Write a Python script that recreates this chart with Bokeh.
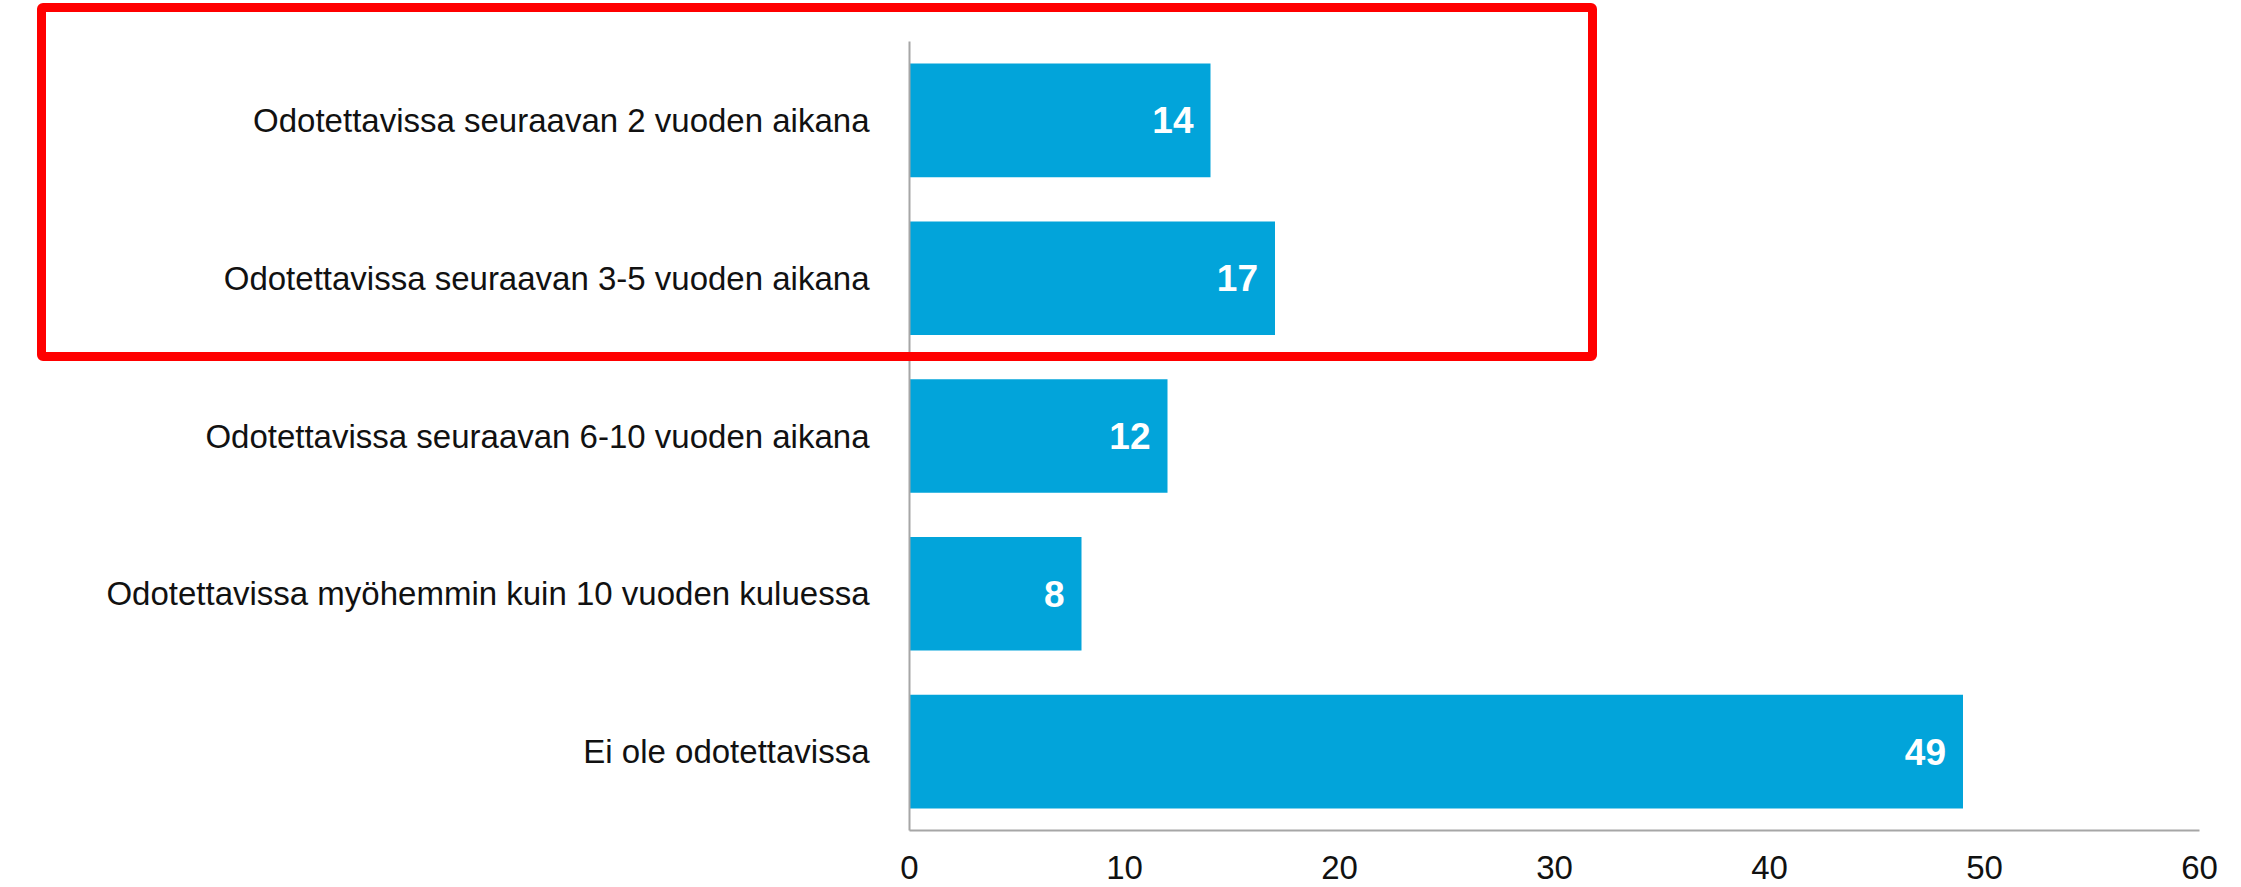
from bokeh.plotting import figure
from bokeh.models import Range1d, FactorRange, FixedTicker, ColumnDataSource, InlineStyleSheet
from bokeh.core.properties import value
from bokeh.embed import file_html
from bokeh.resources import INLINE

categories = [
    "Odotettavissa seuraavan 2 vuoden aikana",
    "Odotettavissa seuraavan 3-5 vuoden aikana",
    "Odotettavissa seuraavan 6-10 vuoden aikana",
    "Odotettavissa myöhemmin kuin 10 vuoden kuluessa",
    "Ei ole odotettavissa",
]
values = [14, 17, 12, 8, 49]
x_ticks = [0, 10, 20, 30, 40, 50, 60]
labels = [str(v) for v in values]

src = ColumnDataSource(dict(cat=categories, val=values, lab=labels))

p = figure(
    width=2225, height=887,
    y_range=FactorRange(factors=categories[::-1]),
    x_range=Range1d(0, 60),
    output_backend="svg", toolbar_location=None,
    min_border_left=909, min_border_right=26,
    min_border_top=41, min_border_bottom=57,
)
p.outline_line_color = None
p.grid.visible = False
p.background_fill_color = "white"

p.hbar(y="cat", left=0, right="val", height=0.72, source=src,
       fill_color="#02A4DA", line_color=None)

p.text(x="val", y="cat", text="lab", source=src, x_offset=-17,
       text_align="right", text_baseline="middle", text_color="white",
       text_font=value("Liberation Sans"), text_font_style="bold",
       text_font_size="37px")

for ax in (p.xaxis[0], p.yaxis[0]):
    ax.axis_line_color = "#A6A6A6"
    ax.axis_line_width = 2
    ax.major_tick_line_color = None
    ax.minor_tick_line_color = None
    ax.major_label_text_font = "Liberation Sans"
    ax.major_label_text_color = "#111111"

p.yaxis.major_label_standoff = 34
p.yaxis.major_label_text_font_size = "33px"
p.xaxis.ticker = FixedTicker(ticks=x_ticks, minor_ticks=[])
p.xaxis.major_label_standoff = 19
p.xaxis.major_label_text_font_size = "33px"

# red highlight frame around the first two categories (drawn as a CSS overlay,
# since Bokeh clips annotations to the plot frame)
highlight = InlineStyleSheet(css="""
:host { position: relative; }
:host::after {
  content: "";
  position: absolute;
  left: 37px; top: 3px; width: 1560px; height: 358px;
  box-sizing: border-box;
  border: 9px solid #FF0000;
  border-radius: 6px;
  pointer-events: none;
}
""")
p.stylesheets = [highlight]

open("out.html", "w").write(file_html(p, INLINE))
